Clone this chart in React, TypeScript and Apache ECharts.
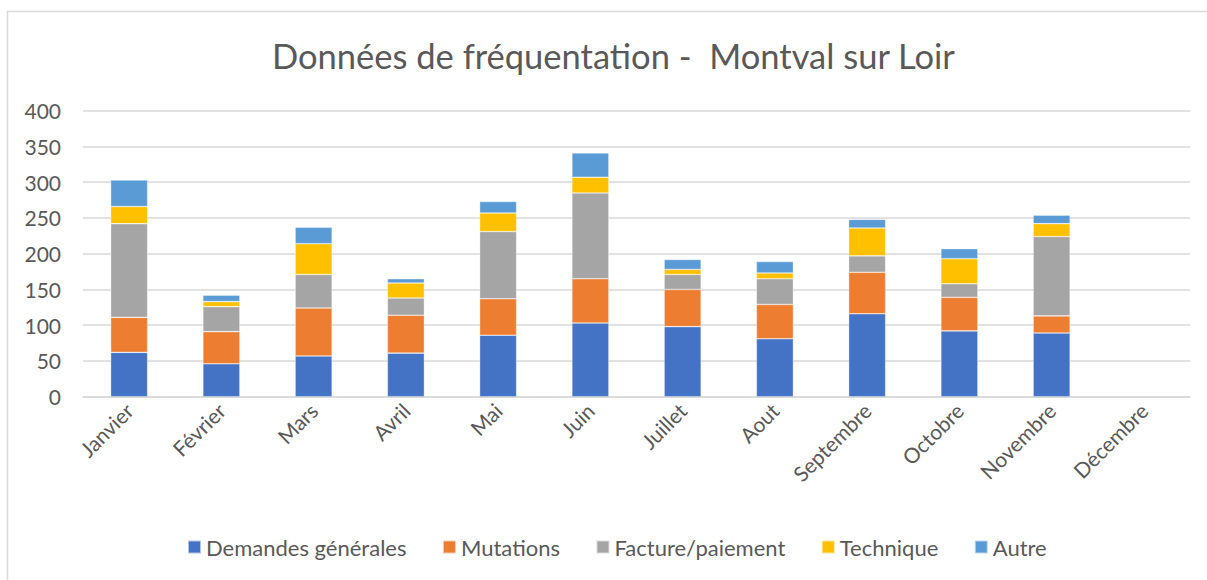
import React, { useEffect, useRef } from "react";
import * as echarts from "echarts";

const months = ["Janvier", "Février", "Mars", "Avril", "Mai", "Juin", "Juillet", "Aout", "Septembre", "Octobre", "Novembre", "Décembre"];
const demandesGenerales = [62, 46, 57, 61, 86, 103, 98, 81, 116, 92, 89, null];
const mutations = [49, 45, 67, 53, 51, 62, 52, 48, 58, 47, 24, null];
const facturePaiement = [131, 35, 47, 24, 94, 120, 21, 36, 23, 19, 111, null];
const technique = [24, 7, 43, 21, 26, 22, 7, 8, 39, 35, 18, null];
const autre = [37, 9, 23, 6, 16, 34, 14, 16, 12, 14, 12, null];
const yTicks = { min: 0, max: 400, interval: 50 };

const FONT = "Lato, 'Open Sans', sans-serif";

export default function App() {
  const ref = useRef<HTMLDivElement>(null);
  useEffect(() => {
    if (!ref.current) return;
    const chart = echarts.init(ref.current, undefined, { renderer: "svg" });
    const mk = (name: string, data: (number | null)[], color: string) => ({
      name,
      type: "bar",
      stack: "total",
      data,
      barWidth: 37,
      itemStyle: { color, borderColor: "rgba(255,255,255,0.6)", borderWidth: 0.6 },
    });
    chart.setOption({
      animation: false,
      textStyle: { fontFamily: FONT },
      title: {
        text: "Données de fréquentation -  Montval sur Loir",
        left: 267,
        top: 33,
        textStyle: { fontSize: 34.5, fontWeight: "normal", color: "#595959", fontFamily: FONT },
      },
      graphic: [
        {
          type: "rect",
          shape: { x: 7.5, y: 11.5, width: 1230, height: 600 },
          style: { fill: "none", stroke: "#D9D9D9", lineWidth: 1.5 },
          silent: true,
          z: -10,
        },
      ],
      legend: {
        left: 182,
        top: 531,
        itemWidth: 13,
        itemHeight: 13,
        itemGap: 35.5,
        icon: "rect",
        textStyle: { fontSize: 22, color: "#595959", fontFamily: FONT },
        data: ["Demandes générales", "Mutations", "Facture/paiement", "Technique", "Autre"],
      },
      grid: { left: 83, right: 17, top: 110.7, bottom: 183.3, containLabel: false },
      xAxis: {
        type: "category",
        data: months,
        axisLine: { lineStyle: { color: "#D9D9D9", width: 1.5 } },
        axisTick: { show: false },
        axisLabel: { rotate: 45, fontSize: 21, color: "#595959", margin: 10, interval: 0, fontFamily: FONT },
      },
      yAxis: {
        type: "value",
        min: yTicks.min,
        max: yTicks.max,
        interval: yTicks.interval,
        axisLine: { show: false },
        axisTick: { show: false },
        axisLabel: { fontSize: 21, color: "#595959", margin: 22, fontFamily: FONT },
        splitLine: { lineStyle: { color: "#D9D9D9", width: 1.5 } },
      },
      series: [
        mk("Demandes générales", demandesGenerales, "#4472C4"),
        mk("Mutations", mutations, "#ED7D31"),
        mk("Facture/paiement", facturePaiement, "#A5A5A5"),
        mk("Technique", technique, "#FFC000"),
        mk("Autre", autre, "#5B9BD5"),
      ],
    });
    return () => chart.dispose();
  }, []);
  return (
    <div
      ref={ref}
      style={{ position: "absolute", left: 0, top: 0, width: 1207, height: 580, background: "#fff" }}
    />
  );
}
